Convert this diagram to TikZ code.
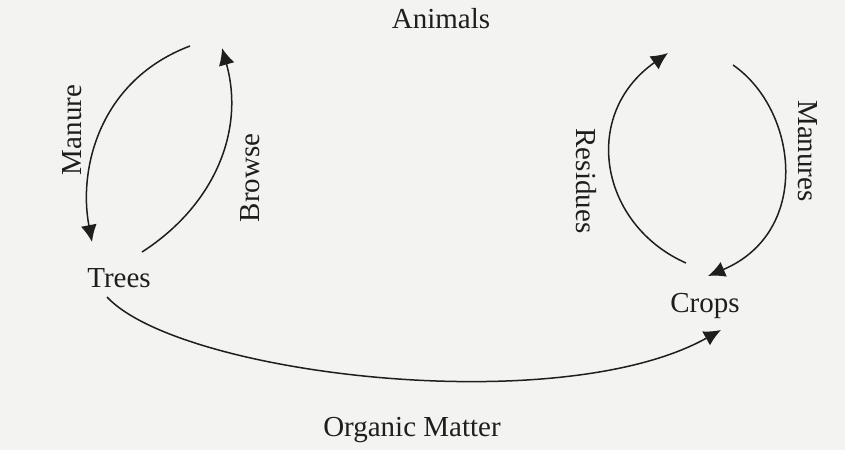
\documentclass[tikz,border=0pt]{standalone}
\usepackage{fontspec}
\setmainfont{Liberation Serif}
\usetikzlibrary{arrows.meta}
\definecolor{paper}{RGB}{243,243,241}
\definecolor{ink}{RGB}{30,30,30}
\tikzset{
  lbl/.style={inner sep=0pt, text=ink, font=\fontsize{29}{31}\selectfont},
  flow/.style={draw=ink, line width=1.5pt, -{Latex[length=17pt,width=16pt]}},
}
\begin{document}
\begin{tikzpicture}[x=1pt,y=-1pt]
\fill[paper] (0,0) rectangle (845,450);
\useasboundingbox (0,0) rectangle (845,450);

% labels
\node[lbl] (animals) at (441,19) {Animals};
\node[lbl] (trees) at (119,278) {Trees};
\node[lbl] (crops) at (705,306) {Crops};
\node[lbl] (organic) at (412,430) {Organic Matter};
\node[lbl, rotate=90] (manure) at (72,130) {Manure};
\node[lbl, rotate=90] (browse) at (250,178) {Browse};
\node[lbl, rotate=-90] (residues) at (586,181) {Residues};
\node[lbl, rotate=-90] (manures) at (808,151) {Manures};

% connector end points
\coordinate (manA) at (190,46);
\coordinate (manB) at (92,242);
\coordinate (brA) at (142,252);
\coordinate (brB) at (222,48);
\coordinate (resA) at (686,263);
\coordinate (resB) at (668,53);
\coordinate (mnsA) at (733,65);
\coordinate (mnsB) at (708,276);
\coordinate (orgA) at (107,297);
\coordinate (orgB) at (721,330);

% connectors
\draw[flow] (manA) .. controls (100,80) and (78,168) .. (manB);
\draw[flow] (brA) .. controls (215,205) and (245,130) .. (brB);
\draw[flow] (resA) .. controls (600,225) and (580,115) .. (resB);
\draw[flow] (mnsA) .. controls (798,110) and (812,232) .. (mnsB);
\draw[flow] (orgA) .. controls (180,375) and (560,420) .. (orgB);
\end{tikzpicture}
\end{document}
